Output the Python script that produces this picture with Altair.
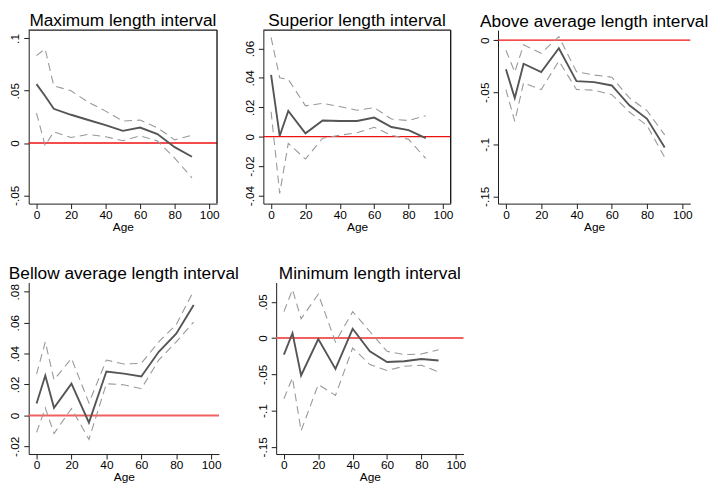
import altair as alt
import pandas as pd

ages = [0, 5, 10, 20, 30, 40, 50, 60, 70, 80, 90]

titles = ["Maximum length interval", "Superior length interval", "Above average length interval",
          "Bellow average length interval", "Minimum length interval"]

max_mean = [0.0563, 0.045, 0.0327, 0.027, 0.022, 0.017, 0.0116, 0.0148, 0.0085, -0.004, -0.0132]
max_hi = [0.0836, 0.090, 0.0547, 0.050, 0.039, 0.0305, 0.021, 0.022, 0.0145, 0.003, 0.0075]
max_lo = [0.0286, -0.0025, 0.0107, 0.0053, 0.0082, 0.006, 0.0022, 0.0069, 0.0019, -0.0145, -0.0333]

sup_mean = [0.042, 0.0005, 0.0175, 0.0023, 0.011, 0.0107, 0.0107, 0.013, 0.0066, 0.0045, -0.001]
sup_hi = [0.0675, 0.040, 0.039, 0.021, 0.0227, 0.0205, 0.018, 0.0198, 0.012, 0.011, 0.0143]
sup_lo = [0.017, -0.0386, -0.0045, -0.0152, -0.001, 0.001, 0.0027, 0.0064, 0.001, -0.0018, -0.0148]

abv_mean = [-0.028, -0.0555, -0.0226, -0.0306, -0.0077, -0.0394, -0.0403, -0.0435, -0.0626, -0.0755, -0.103]
abv_hi = [-0.0097, -0.0306, -0.0045, -0.0126, 0.0035, -0.0303, -0.0335, -0.0355, -0.0555, -0.0677, -0.091]
abv_lo = [-0.0474, -0.078, -0.041, -0.0474, -0.020, -0.0474, -0.048, -0.0523, -0.069, -0.082, -0.1126]

bel_mean = [0.0077, 0.0258, 0.0049, 0.0205, -0.0047, 0.0284, 0.027, 0.0252, 0.0412, 0.0529, 0.0715]
bel_hi = [0.0267, 0.0476, 0.023, 0.0369, 0.0081, 0.0358, 0.0333, 0.0337, 0.0476, 0.0587, 0.0806]
bel_lo = [-0.011, 0.0049, -0.0117, 0.0045, -0.0155, 0.0205, 0.0198, 0.0173, 0.0358, 0.0476, 0.0604]

min_mean = [-0.0228, 0.0068, -0.0516, -0.0014, -0.0425, 0.0128, -0.0183, -0.0329, -0.032, -0.0288, -0.031]
min_hi = [0.0365, 0.067, 0.0265, 0.0607, -0.0055, 0.0365, 0.0091, -0.0183, -0.0228, -0.0219, -0.016]
min_lo = [-0.0836, -0.0548, -0.128, -0.064, -0.079, -0.0137, -0.0365, -0.0447, -0.0388, -0.0374, -0.0466]

y_ticks = [
    [-0.05, 0, 0.05, 0.1],
    [-0.04, -0.02, 0, 0.02, 0.04, 0.06],
    [-0.15, -0.1, -0.05, 0],
    [-0.02, 0, 0.02, 0.04, 0.06, 0.08],
    [-0.15, -0.1, -0.05, 0, 0.05],
]
y_domains = [
    [-0.058, 0.108],
    [-0.0455, 0.0725],
    [-0.157, 0.0097],
    [-0.025, 0.086],
    [-0.16, 0.0767],
]
x_ticks = [0, 20, 40, 60, 80, 100]

FONT = "Liberation Sans"
AX = "#1a1a1a"


def panel(i, mean, lo, hi, box, w, h, red, red_w):
    rows = []
    for a, m, l, u in zip(ages, mean, lo, hi):
        rows.append({"age": a, "value": m, "series": "mean"})
        rows.append({"age": a, "value": l, "series": "lo"})
        rows.append({"age": a, "value": u, "series": "hi"})
    df = pd.DataFrame(rows)
    base = alt.Chart(df)
    x = alt.X("age:Q", scale=alt.Scale(domain=[-4.5, 104.5], nice=False, zero=False),
              axis=alt.Axis(values=x_ticks, title="Age", grid=False, labelFontSize=12,
                            titleFontSize=12, titleFontWeight="normal", titlePadding=1,
                            labelFont=FONT, titleFont=FONT, labelColor="black", titleColor="black",
                            domainColor=AX, tickColor=AX, tickSize=5, labelPadding=1))
    y = alt.Y("value:Q", scale=alt.Scale(domain=y_domains[i], nice=False, zero=False),
              axis=alt.Axis(values=y_ticks[i], title=None, grid=False, labelFontSize=12,
                            labelFont=FONT, labelColor="black", labelAngle=270,
                            labelAlign="center", labelBaseline="bottom", labelOverlap=False,
                            labelExpr="replace(toString(datum.value), '0.', '.')",
                            domainColor=AX, tickColor=AX, tickSize=5, labelPadding=2))
    zero = alt.Chart(pd.DataFrame({"value": [0.0]})).mark_rule(
        color=red, strokeWidth=red_w).encode(y=y)
    ci = base.transform_filter("datum.series != 'mean'").mark_line(
        color="#999999", strokeDash=[8, 5], strokeWidth=1.1).encode(x=x, y=y, detail="series:N")
    mn = base.transform_filter("datum.series == 'mean'").mark_line(
        color="#555555", strokeWidth=1.9).encode(x=x, y=y)
    layers = [zero, ci, mn]
    if box:
        one = pd.DataFrame({"value": [0.0]})
        top = alt.Chart(one).mark_rule(color=AX, strokeWidth=1.4).encode(
            y=alt.value(0), x=alt.value(0), x2=alt.value(w))
        right = alt.Chart(one).mark_rule(color=AX, strokeWidth=1.4).encode(
            x=alt.value(w), y=alt.value(0), y2=alt.value(h))
        layers += [top, right]
    return alt.layer(*layers).properties(
        width=w, height=h,
        title=alt.TitleParams(titles[i], fontSize=17.5, font=FONT, fontWeight="normal",
                              anchor="middle", offset=0, color="black"))


p1 = panel(0, max_mean, max_lo, max_hi, True, 191, 176, "#ee1111", 1.3)
p2 = panel(1, sup_mean, sup_lo, sup_hi, True, 190, 176, "#ee1111", 1.3)
p3 = panel(2, abv_mean, abv_lo, abv_hi, False, 195, 176, "#ee1111", 1.3)
p4 = panel(3, bel_mean, bel_lo, bel_hi, False, 193, 174, "#f26060", 2)
p5 = panel(4, min_mean, min_lo, min_hi, False, 190, 174, "#f26060", 2)

row1 = alt.hconcat(p1, p2, p3, spacing=24)
row2 = alt.hconcat(p4, p5, spacing=17)
chart = alt.vconcat(row1, row2, spacing=33).properties(
    padding=0, background="white"
).configure_view(stroke="transparent", strokeWidth=0).configure_axis(labelOverlap=False)

chart.save("out.html", embed_options={"renderer": "svg", "actions": False})
